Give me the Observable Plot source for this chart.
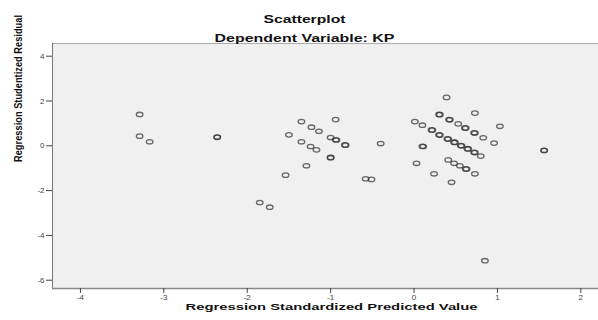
<!DOCTYPE html>
<html><head><meta charset="utf-8">
<script src="https://cdn.jsdelivr.net/npm/d3@7"></script>
<script src="https://cdn.jsdelivr.net/npm/@observablehq/plot@0.6"></script>
<style>body{margin:0;background:#fff;font-family:"Liberation Sans",Arial,sans-serif}</style>
</head><body><div id="chart"></div>
<script>
// Regression Standardized Predicted Value
const predicted = [
  -3.29, -3.29, -3.17, -2.36, -2.36,
  -1.35, -1.23, -1.14, -0.94, -1.50, -1.35, -1.24, -1.17, -1.00, -0.94, -0.93,
  -0.83, -0.82, -0.40, -1.00, -1.00, -1.29, -1.54, -0.58, -0.51, -1.85, -1.73,
  0.39, 0.73, 0.01, 0.10, 1.03, 0.96, 0.10, 0.11, 1.56, 1.56,
  0.03, 0.41, 0.48, 0.55, 0.62, 0.63, 0.73, 0.24, 0.45, 0.85,
  0.30, 0.31, 0.42, 0.43, 0.53, 0.61, 0.62, 0.72, 0.73, 0.83,
  0.21, 0.22, 0.30, 0.31, 0.40, 0.41, 0.48, 0.49, 0.56, 0.57, 0.64, 0.65, 0.72, 0.73, 0.80
];
// Regression Studentized Residual
const residual = [
  1.40, 0.43, 0.18, 0.39, 0.38,
  1.08, 0.83, 0.65, 1.17, 0.49, 0.18, -0.03, -0.18, 0.37, 0.27, 0.26,
  0.04, 0.03, 0.10, -0.52, -0.53, -0.89, -1.31, -1.47, -1.50, -2.53, -2.74,
  2.16, 1.46, 1.08, 0.92, 0.87, 0.12, -0.02, -0.03, -0.20, -0.21,
  -0.78, -0.63, -0.78, -0.89, -1.03, -1.04, -1.25, -1.25, -1.63, -5.13,
  1.40, 1.39, 1.17, 1.16, 0.98, 0.80, 0.79, 0.58, 0.57, 0.36,
  0.71, 0.70, 0.49, 0.48, 0.31, 0.30, 0.16, 0.15, 0.01, 0.00, -0.13, -0.14, -0.29, -0.30, -0.46
];
const xTicks = [-4, -3, -2, -1, 0, 1, 2];
const yTicks = [4, 2, 0, -2, -4, -6];
const title = "Scatterplot";
const subtitle = "Dependent Variable: KP";
const xLabel = "Regression Standardized Predicted Value";
const yLabel = "Regression Studentized Residual";

const points = predicted.map((x, i) => ({x, y: residual[i]}));

const ellipse = {
  draw(ctx, size) {
    const rx = 3.3, ry = 2.2, k = 0.5523;
    ctx.moveTo(rx, 0);
    ctx.bezierCurveTo(rx, ry * k, rx * k, ry, 0, ry);
    ctx.bezierCurveTo(-rx * k, ry, -rx, ry * k, -rx, 0);
    ctx.bezierCurveTo(-rx, -ry * k, -rx * k, -ry, 0, -ry);
    ctx.bezierCurveTo(rx * k, -ry, rx, -ry * k, rx, 0);
    ctx.closePath();
  }
};

const xDom = [-4.335, 2.212];
const yDom = [-6.37, 4.567];
const fmt = d => String(d);

const plot = Plot.plot({
  width: 598, height: 320,
  marginLeft: 52, marginRight: 0, marginTop: 43, marginBottom: 32,
  style: {fontFamily: "'Liberation Sans', Arial, sans-serif", background: "white", overflow: "visible"},
  x: {domain: xDom},
  y: {domain: yDom},
  marks: [
    Plot.frame({fill: "#f0f0f0", stroke: "#aaaaaa"}),
    Plot.ruleX([xDom[0]], {stroke: "#777"}),
    Plot.ruleY([yDom[0]], {stroke: "#888", strokeWidth: 1.5}),
    Plot.axisX({ticks: xTicks, tickSize: 5, tickPadding: 1, fontSize: 8, color: "#444", label: null, tickFormat: fmt}),
    Plot.axisY({ticks: yTicks, tickSize: 6, tickPadding: 2, fontSize: 8, color: "#444", label: null, tickFormat: fmt}),
    Plot.dot(points, {x: "x", y: "y", symbol: ellipse, r: 3, stroke: "#333", strokeOpacity: 0.72, strokeWidth: 1.3}),
    Plot.text([title], {frameAnchor: "top", dx: -21, dy: -28, fontSize: 11, fontWeight: "bold", fill: "#111", className: "t-title"}),
    Plot.text([subtitle], {frameAnchor: "top", dx: -21, dy: -9, fontSize: 11, fontWeight: "bold", fill: "#111", className: "t-sub"}),
    Plot.text([xLabel], {frameAnchor: "bottom", dx: 6, dy: 21, fontSize: 9, fontWeight: "bold", fill: "#111", className: "t-xlab"}),
    Plot.text([yLabel], {frameAnchor: "left", dx: -34, dy: -4, rotate: -90, fontSize: 10, fontWeight: "bold", fill: "#111", className: "t-ylab"})
  ]
});

const s = d3.select(plot);
s.selectAll(".t-title text").attr("textLength", 82).attr("lengthAdjust", "spacingAndGlyphs");
s.selectAll(".t-sub text").attr("textLength", 180).attr("lengthAdjust", "spacingAndGlyphs");
s.selectAll(".t-xlab text").attr("textLength", 292).attr("lengthAdjust", "spacingAndGlyphs");
s.selectAll(".t-ylab text").attr("textLength", 147).attr("lengthAdjust", "spacingAndGlyphs");

document.getElementById("chart").appendChild(plot);
</script>
</body></html>
